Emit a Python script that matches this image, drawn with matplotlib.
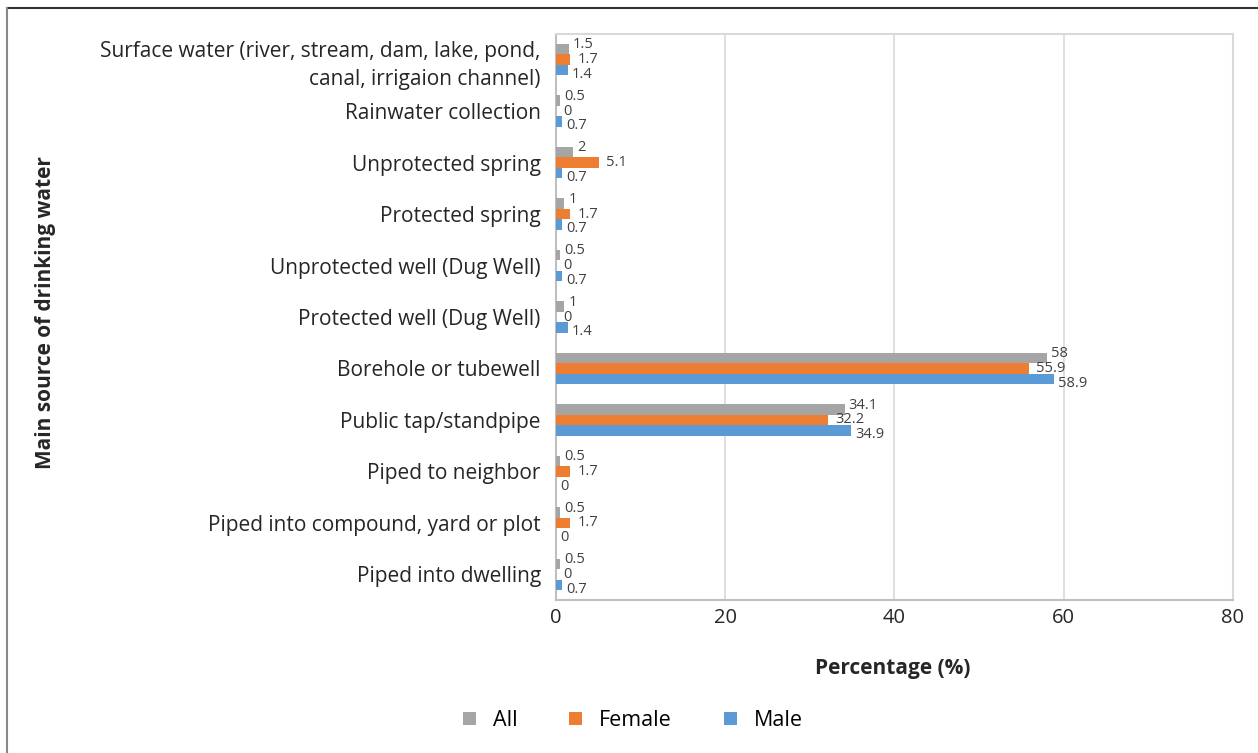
import matplotlib.pyplot as plt
import numpy as np
from matplotlib.lines import Line2D

plt.rcParams['font.family'] = ['Open Sans', 'DejaVu Sans']

categories = [
    'Surface water (river, stream, dam, lake, pond,\ncanal, irrigaion channel)',
    'Rainwater collection',
    'Unprotected spring',
    'Protected spring',
    'Unprotected well (Dug Well)',
    'Protected well (Dug Well)',
    'Borehole or tubewell',
    'Public tap/standpipe',
    'Piped to neighbor',
    'Piped into compound, yard or plot',
    'Piped into dwelling',
]
all_vals = [1.5, 0.5, 2, 1, 0.5, 1, 58, 34.1, 0.5, 0.5, 0.5]
female_vals = [1.7, 0, 5.1, 1.7, 0, 0, 55.9, 32.2, 1.7, 1.7, 0]
male_vals = [1.4, 0.7, 0.7, 0.7, 0.7, 1.4, 58.9, 34.9, 0, 0, 0.7]

series = [('All', all_vals, '#A5A5A5'),
          ('Female', female_vals, '#ED7D31'),
          ('Male', male_vals, '#5B9BD5')]

fig = plt.figure(figsize=(12.58, 7.53), dpi=100)
ax = fig.add_axes([0.442, 0.203, 0.538, 0.752])

y = np.arange(len(categories))
h = 0.205
offsets = [-h, 0, h]
label_shift = [(3, 3), (5, 0), (3, -3)]
for (name, vals, color), off, (dx, dy) in zip(series, offsets, label_shift):
    ax.barh(y + off, vals, height=h, color=color, label=name, zorder=3)
    # data labels, staggered a little like the original
    for yi, v in zip(y + off, vals):
        ax.annotate('%g' % v, (v, yi), xytext=(dx, dy), textcoords='offset points',
                    ha='left', va='center', fontsize=10.5, color='#404040')

ax.set_ylim(len(categories) - 0.5, -0.5)
ax.set_xlim(0, 80)
ax.set_xticks([0, 20, 40, 60, 80])
ax.set_yticks(y)
ax.set_yticklabels(categories, fontsize=15, color='#262626', linespacing=1.45)
ax.tick_params(axis='x', labelsize=14.5, colors='#262626', length=0, pad=6)
ax.tick_params(axis='y', length=0, pad=11)
ax.xaxis.grid(True, color='#D9D9D9', linewidth=1.2, zorder=0)
for side in ['top', 'right']:
    ax.spines[side].set_color('#D9D9D9')
    ax.spines[side].set_linewidth(1.5)
for side in ['left', 'bottom']:
    ax.spines[side].set_color('#BFBFBF')
    ax.spines[side].set_linewidth(1.5)

fig.text(0.71, 0.112, 'Percentage (%)', ha='center', va='center',
         fontsize=15, fontweight='bold', color='#262626')
fig.text(0.036, 0.585, 'Main source of drinking water', ha='center', va='center',
         rotation=90, fontsize=15, fontweight='bold', color='#262626')

ax.legend(loc='center', bbox_to_anchor=(0.503, 0.043), bbox_transform=fig.transFigure,
          ncol=3, frameon=False, fontsize=15.5, handlelength=0.6, handleheight=0.6,
          columnspacing=2.4, handletextpad=0.8)

# outer frame (top and left edges)
fig.add_artist(Line2D([0.0056, 1.0], [0.989, 0.989], transform=fig.transFigure,
                      color='#333333', linewidth=1.5))
fig.add_artist(Line2D([0.0056, 0.0056], [0.0, 0.989], transform=fig.transFigure,
                      color='#888888', linewidth=1.5))

plt.savefig('out.png', dpi=100)
